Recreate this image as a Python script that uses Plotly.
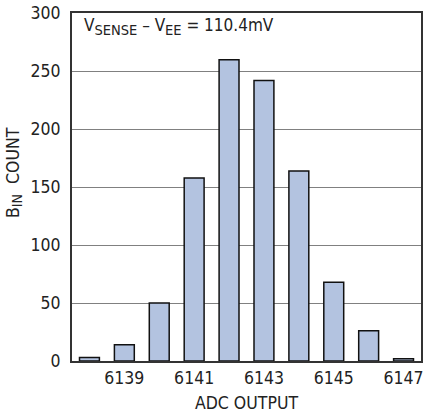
import plotly.graph_objects as go

adc_codes = [6138, 6139, 6140, 6141, 6142, 6143, 6144, 6145, 6146, 6147]
bin_counts = [3, 14, 50, 158, 260, 242, 164, 68, 26, 2]
x_tick_vals = [6139, 6141, 6143, 6145, 6147]
y_tick_vals = [0, 50, 100, 150, 200, 250, 300]

FONT = "DejaVu Sans Condensed, Liberation Sans Narrow, Roboto, sans-serif"
FS = 17.5

fig = go.Figure()
fig.add_trace(go.Bar(
    x=adc_codes, y=bin_counts, width=0.57,
    marker=dict(color="#b3c3e0", line=dict(color="#111111", width=1.5)),
))

fig.update_layout(
    width=426, height=419,
    margin=dict(l=72, r=3, t=10, b=58),
    paper_bgcolor="white", plot_bgcolor="white",
    showlegend=False,
    font=dict(family=FONT, size=FS, color="#222222"),
    xaxis=dict(
        range=[6137.5, 6147.5], tickvals=x_tick_vals,
        ticktext=[str(v) for v in x_tick_vals],
        showgrid=False, zeroline=False, ticks="",
        showline=True, mirror=True, linecolor="#333333", linewidth=2,
        title=dict(text="ADC OUTPUT", standoff=10, font=dict(size=FS)),
        tickfont=dict(size=FS),
    ),
    yaxis=dict(
        range=[0, 300.3], tickvals=y_tick_vals,
        showgrid=True, gridcolor="#808080", gridwidth=1,
        zeroline=False, ticks="", ticklabelstandoff=6,
        showline=True, mirror=True, linecolor="#333333", linewidth=2,
        tickfont=dict(size=FS),
    ),
    annotations=[
        dict(
            x=0, y=0, xref="paper", yref="paper",
            showarrow=False,
            text="V<sub><span style='font-size:14.5px'>SENSE</span></sub> – "
                 "V<sub><span style='font-size:14.5px'>EE</span></sub> = 110.4mV",
            font=dict(family=FONT, size=17, color="#222222"),
        ),
        dict(
            x=0, y=0, xref="paper", yref="paper",
            showarrow=False, textangle=-90,
            text="B<sub><span style='font-size:14px'>IN</span></sub>  COUNT",
            font=dict(family=FONT, size=FS, color="#222222"),
        ),
    ],
)

# convert pixel positions of the two free texts into paper coordinates
pw, ph = 426 - 72 - 3, 419 - 10 - 58
a0 = fig.layout.annotations[0]
a0.update(x=(82 - 72) / pw, y=(419 - 58 - 24) / ph, xanchor="left", yanchor="middle")
a1 = fig.layout.annotations[1]
a1.update(x=(14 - 72) / pw, y=(419 - 58 - 171) / ph, xanchor="center", yanchor="middle")

fig.write_html(
    "out.html",
    config={"displayModeBar": False},
    post_script="document.body.style.margin='0';document.body.style.overflow='hidden';",
)
